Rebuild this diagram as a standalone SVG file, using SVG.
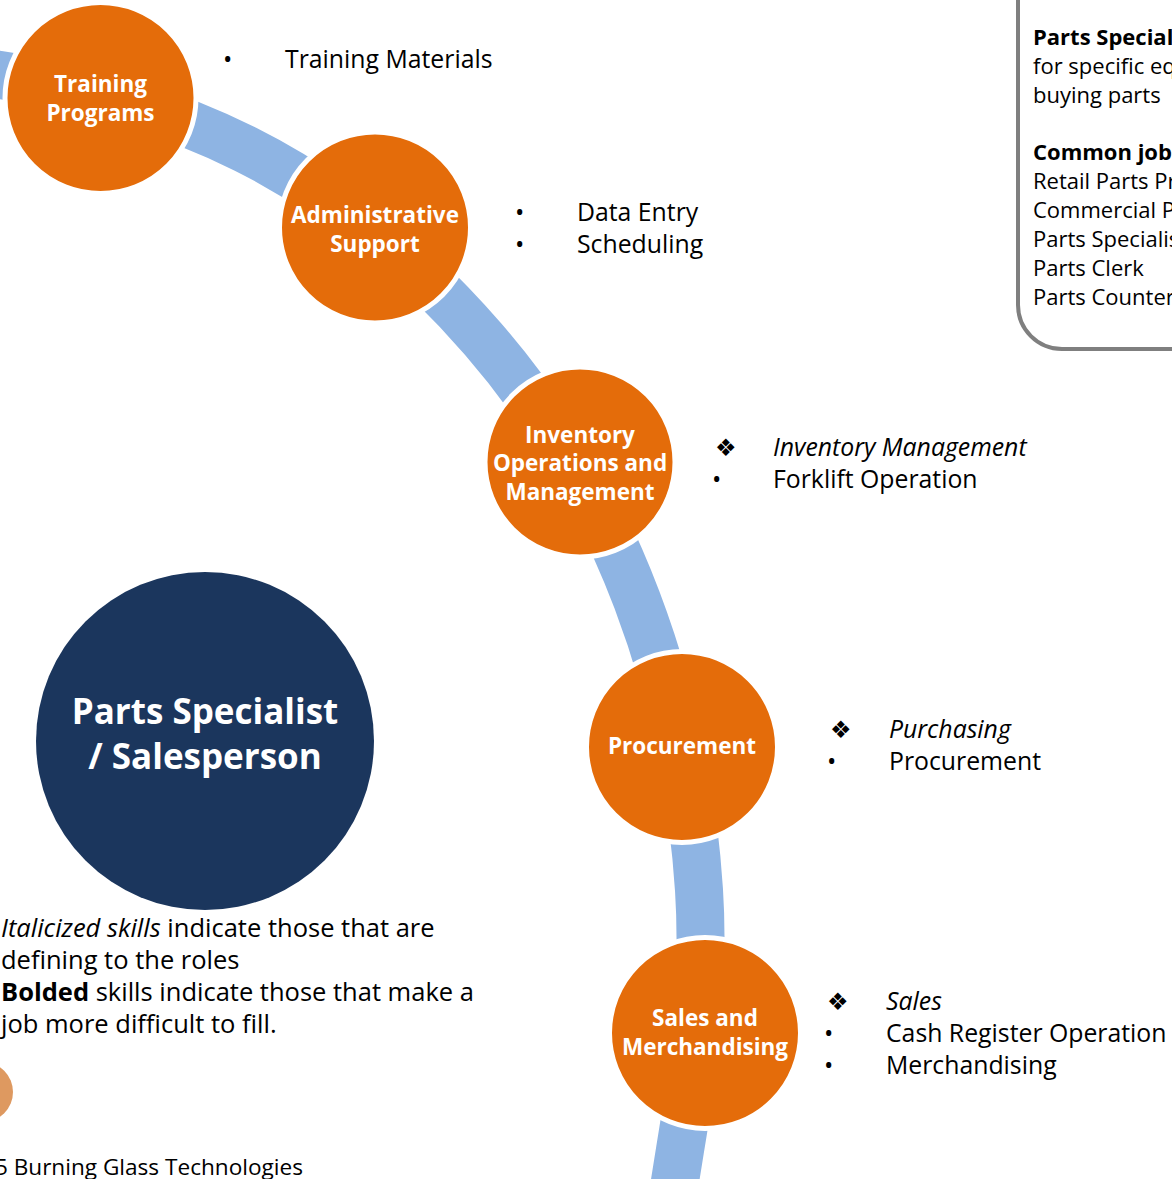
<svg xmlns="http://www.w3.org/2000/svg" width="1172" height="1179" viewBox="0 0 1172 1179">
  <defs>
    <style>
      .band { fill: none; stroke: #8EB4E3; stroke-width: 48; stroke-linecap: butt; }
      .step { fill: #E46C0A; stroke: #FFFFFF; stroke-width: 5; }
      .stepText { font-family: "Open Sans", "Noto Sans", sans-serif; font-weight: 700; font-size: 22.5px; fill: #FFFFFF; text-anchor: middle; }
      .body { font-family: "Open Sans", "Noto Sans", sans-serif; font-size: 24.8px; fill: #000000; }
      .legend { font-family: "Open Sans", "Noto Sans", sans-serif; font-size: 25.5px; fill: #000000; }
      .dot { font-family: "Open Sans", "Noto Sans", sans-serif; font-size: 24.8px; fill: #000000; }
      .dia { font-family: "DejaVu Sans", sans-serif; font-size: 24px; fill: #000000; }
      .box { font-family: "Open Sans", "Noto Sans", sans-serif; font-size: 22px; fill: #000000; }
      .b { font-weight: 700; }
      .i { font-style: italic; }
    </style>
    <clipPath id="page"><rect x="0" y="0" width="1172" height="1179"/></clipPath>
  </defs>
  <rect x="0" y="0" width="1172" height="1179" fill="#FFFFFF"/>

  <g id="connectors">
    <path class="band" d="M -40 69.4 L 0 75 C 84.4 86.9 168.7 110.9 245 149 C 335.7 194.4 416.4 262.4 483 339 C 549.3 415.3 601.1 505.6 637 600 C 672.1 692.5 692.6 791.3 699 890 C 704.6 976.7 694.3 1064.3 680 1150 L 672 1200"/>
  </g>

  <g id="node-training">
    <circle class="step" cx="100.5" cy="98" r="95.5"/>
    <text class="stepText" x="100.5" y="92">Training</text>
    <text class="stepText" x="100.5" y="121">Programs</text>
  </g>
  <g id="node-admin">
    <circle class="step" cx="375" cy="227.5" r="95.5"/>
    <text class="stepText" x="375" y="223">Administrative</text>
    <text class="stepText" x="375" y="252">Support</text>
  </g>
  <g id="node-inventory">
    <circle class="step" cx="580" cy="462" r="95"/>
    <text class="stepText" x="580" y="443">Inventory</text>
    <text class="stepText" x="580" y="471">Operations and</text>
    <text class="stepText" x="580" y="500">Management</text>
  </g>
  <g id="node-procurement">
    <circle class="step" cx="682" cy="747" r="95.5"/>
    <text class="stepText" x="682" y="754">Procurement</text>
  </g>
  <g id="node-sales">
    <circle class="step" cx="705" cy="1033" r="95.5"/>
    <text class="stepText" x="705" y="1026">Sales and</text>
    <text class="stepText" x="705" y="1055">Merchandising</text>
  </g>

  <g id="node-role">
    <circle cx="205" cy="741" r="169" fill="#1B365D"/>
    <text x="205" y="724" font-family="'Open Sans', 'Noto Sans', sans-serif" font-weight="700" font-size="35px" fill="#FFFFFF" text-anchor="middle">Parts Specialist</text>
    <text x="205" y="769" font-family="'Open Sans', 'Noto Sans', sans-serif" font-weight="700" font-size="35px" fill="#FFFFFF" text-anchor="middle">/ Salesperson</text>
  </g>

  <g id="skills-training">
    <text class="dot" x="223" y="68">•</text>
    <text class="body" x="285" y="68">Training Materials</text>
  </g>
  <g id="skills-admin">
    <text class="dot" x="515" y="221">•</text>
    <text class="body" x="577" y="221">Data Entry</text>
    <text class="dot" x="515" y="253">•</text>
    <text class="body" x="577" y="253">Scheduling</text>
  </g>
  <g id="skills-inventory">
    <text class="dia" x="715" y="456">❖</text>
    <text class="body i" x="773" y="456">Inventory Management</text>
    <text class="dot" x="712" y="488">•</text>
    <text class="body" x="773" y="488">Forklift Operation</text>
  </g>
  <g id="skills-procurement">
    <text class="dia" x="830" y="738">❖</text>
    <text class="body i" x="889" y="738">Purchasing</text>
    <text class="dot" x="827" y="770">•</text>
    <text class="body" x="889" y="770">Procurement</text>
  </g>
  <g id="skills-sales">
    <text class="dia" x="827" y="1010">❖</text>
    <text class="body i" x="886" y="1010">Sales</text>
    <text class="dot" x="824" y="1042">•</text>
    <text class="body" x="886" y="1042">Cash Register Operation</text>
    <text class="dot" x="824" y="1074">•</text>
    <text class="body" x="886" y="1074">Merchandising</text>
  </g>

  <g id="info-box" clip-path="url(#page)">
    <path d="M 1018 -20 L 1018 305 A 44 44 0 0 0 1062 349 L 1200 349" fill="#FFFFFF" stroke="#7F7F7F" stroke-width="4"/>
    <text class="box b" x="1033" y="45">Parts Specialists</text>
    <text class="box" x="1033" y="74">for specific equipment</text>
    <text class="box" x="1033" y="103">buying parts</text>
    <text class="box b" x="1033" y="160">Common job titles</text>
    <text class="box" x="1033" y="189">Retail Parts Professional</text>
    <text class="box" x="1033" y="218">Commercial Parts Specialist</text>
    <text class="box" x="1033" y="247">Parts Specialist</text>
    <text class="box" x="1033" y="276">Parts Clerk</text>
    <text class="box" x="1033" y="305">Parts Counterperson</text>
  </g>

  <g id="legend">
    <text class="legend" x="1" y="937"><tspan class="i">Italicized skills</tspan> indicate those that are</text>
    <text class="legend" x="1" y="969">defining to the roles</text>
    <text class="legend" x="1" y="1001"><tspan class="b">Bolded</tspan> skills indicate those that make a</text>
    <text class="legend" x="1" y="1033">job more difficult to fill.</text>
  </g>

  <g id="footer">
    <circle cx="-17" cy="1092" r="30" fill="#DE9960"/>
    <text x="303" y="1175" font-family="'Open Sans', 'Noto Sans', sans-serif" font-size="22.6px" fill="#000000" text-anchor="end">© 2015 Burning Glass Technologies</text>
  </g>
</svg>
